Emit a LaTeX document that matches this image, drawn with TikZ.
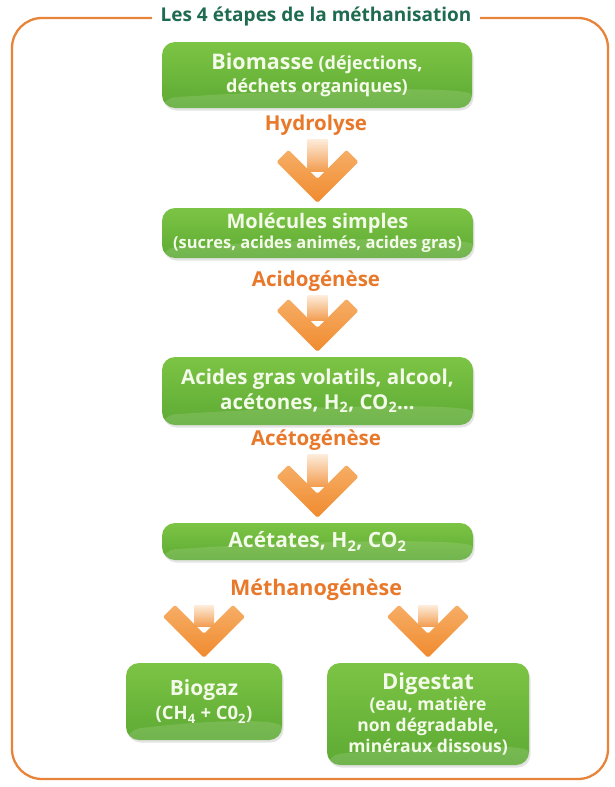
\documentclass[tikz,border=0pt]{standalone}
\usepackage{fontspec}
\setmainfont{Open Sans}
\usetikzlibrary{calc,shadows}
\definecolor{frameOr}{HTML}{E8843A}
\definecolor{labOr}{HTML}{E8782A}
\definecolor{titleG}{HTML}{1E6B50}
\definecolor{boxTop}{HTML}{7CC444}
\definecolor{boxBot}{HTML}{5DAA34}
\definecolor{boxTxt}{HTML}{F4FAEA}
\definecolor{arrOr}{HTML}{F08A2E}
\definecolor{arrMid}{HTML}{F6AE66}
\definecolor{arrLight}{HTML}{FDEBD8}
\tikzset{
 gbox/.style={rounded corners=13pt, top color=boxTop, bottom color=boxBot, draw=none,
   text=boxTxt, align=center, inner sep=0pt,
   drop shadow={opacity=0.22, shadow xshift=1.5pt, shadow yshift=-2.5pt},
   path picture={\fill[white, opacity=0.13]
     ([yshift=-2pt]path picture bounding box.south west)
     -- ([yshift=10pt]path picture bounding box.south west)
     .. controls ([yshift=20pt]path picture bounding box.south)
     and ([yshift=22pt]path picture bounding box.south east) ..
     ([yshift=26pt]path picture bounding box.south east)
     -- ([yshift=-2pt]path picture bounding box.south east) -- cycle;}},
 steplabel/.style={text=labOr, font=\fontsize{20.5}{22}\selectfont\bfseries},
 shaftfill/.style={top color=arrLight, bottom color=arrOr!85!white},
 headfill/.style={top color=arrMid, bottom color=arrOr},
}
\newcommand{\fatarrow}[2]{%
  \path[shaftfill] let \p1=(#1), \p2=(#2) in
    (\x2-10pt,\y1) rectangle (\x2+10pt,\y2+36pt);
  \path[headfill, rounded corners=1.5pt] let \p1=(#1), \p2=(#2) in
    (\x2,\y2+5pt) -- ++(-41pt,41pt) -- ++(12pt,12pt) -- ++(29pt,-29pt)
    -- ++(29pt,29pt) -- ++(12pt,-12pt) -- cycle;
}
\begin{document}
\begin{tikzpicture}[x=1pt,y=-1pt]
\useasboundingbox (0,0) rectangle (614,787);
% frame
\draw[frameOr, line width=2.3pt, rounded corners=30pt] (12,18) rectangle (608,779);
\node[fill=white, inner xsep=9pt, inner ysep=2pt, text=titleG,
      font=\fontsize{19}{21}\selectfont\bfseries] (title) at (316,17)
      {Les 4 étapes de la méthanisation};
% boxes
\node[gbox, minimum width=310pt, minimum height=66pt,
      font=\fontsize{18}{23}\selectfont\bfseries] (bio) at (317,75)
  {{\fontsize{21.5}{23}\selectfont Biomasse} (déjections,\\déchets organiques)};
\node[steplabel] (hyd) at (316,125) {Hydrolyse};
\node[gbox, minimum width=311pt, minimum height=50pt,
      font=\fontsize{16.5}{20}\selectfont\bfseries] (mol) at (317.5,233)
  {{\fontsize{20}{20}\selectfont Molécules simples}\\(sucres, acides animés, acides gras)};
\node[steplabel] (acido) at (316,281) {Acidogénèse};
\node[gbox, minimum width=311pt, minimum height=68pt,
      font=\fontsize{20.5}{25}\selectfont\bfseries] (acides) at (317.5,391)
  {Acides gras volatils, alcool,\\acétones, H\textsubscript{2}, CO\textsubscript{2}\dots};
\node[steplabel] (aceto) at (316,440) {Acétogénèse};
\node[gbox, minimum width=311pt, minimum height=37pt,
      font=\fontsize{21}{22}\selectfont\bfseries] (acet) at (317.5,541.5)
  {Acétates, H\textsubscript{2}, CO\textsubscript{2}};
\node[steplabel, font=\fontsize{21.5}{22}\selectfont\bfseries] (metha) at (316,590) {Méthanogénèse};
\node[gbox, minimum width=156pt, minimum height=77pt,
      font=\fontsize{18.5}{24}\selectfont\bfseries] (biogaz) at (204,701.5)
  {{\fontsize{21}{24}\selectfont Biogaz}\\(CH\textsubscript{4} + C0\textsubscript{2})};
\node[gbox, minimum width=202pt, minimum height=102pt,
      font=\fontsize{17.5}{21}\selectfont\bfseries] (digestat) at (428,714)
  {{\fontsize{22}{22}\selectfont Digestat}\\(eau, matière\\non dégradable,\\minéraux dissous)};
% arrows
\fatarrow{$(hyd.south)+(0,1)$}{mol.north}
\fatarrow{$(acido.south)+(0,1)$}{acides.north}
\fatarrow{$(aceto.south)+(0,1)$}{acet.north}
\fatarrow{$(metha.south)+(0,1)$}{biogaz.north}
\fatarrow{$(metha.south)+(0,1)$}{digestat.north}
\end{tikzpicture}
\end{document}
